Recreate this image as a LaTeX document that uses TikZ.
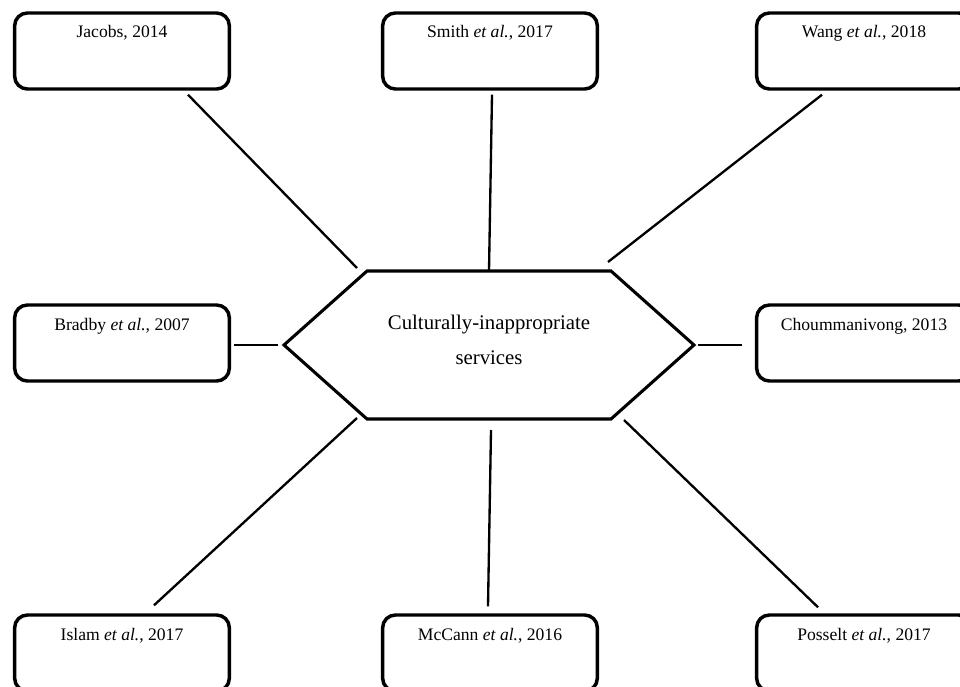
\documentclass[tikz,border=0pt]{standalone}
\usepackage{fontspec}
\setmainfont{Liberation Serif}
\usetikzlibrary{calc}
\begin{document}
\begin{tikzpicture}[x=0.75pt,y=-0.75pt,
  refbox/.style={draw, line width=2.6pt, rounded corners=9.5pt, minimum width=161pt, minimum height=57pt, inner sep=0pt},
  reftext/.style={font=\fontsize{13.2}{15}\selectfont, anchor=base, inner sep=0pt},
  link/.style={line width=1.75pt},
  hexline/.style={line width=2.3pt, line join=miter}]
\useasboundingbox (0,0) rectangle (960,686);
\clip (0,0) rectangle (960,686);

% boxes
\node[refbox] (jac) at (122,51) {};
\node[reftext] at ($(jac.north)+(0,26.5)$) {Jacobs, 2014};
\node[refbox] (smi) at (490,51) {};
\node[reftext] at ($(smi.north)+(0,26.5)$) {Smith \textit{et al.}, 2017};
\node[refbox] (wan) at (864,51) {};
\node[reftext] at ($(wan.north)+(0,26.5)$) {Wang \textit{et al.}, 2018};
\node[refbox] (bra) at (122,343) {};
\node[reftext] at ($(bra.north)+(0,27.5)$) {Bradby \textit{et al.}, 2007};
\node[refbox] (cho) at (864,343) {};
\node[reftext] at ($(cho.north)+(0,27.5)$) {Choummanivong, 2013};
\node[refbox] (isl) at (122,653) {};
\node[reftext] at ($(isl.north)+(0,27.5)$) {Islam \textit{et al.}, 2017};
\node[refbox] (mcc) at (490,653) {};
\node[reftext] at ($(mcc.north)+(0,27.5)$) {McCann \textit{et al.}, 2016};
\node[refbox] (pos) at (864,653) {};
\node[reftext] at ($(pos.north)+(0,27.5)$) {Posselt \textit{et al.}, 2017};

% central hexagon
\coordinate (h1) at (367,271);
\coordinate (h2) at (611,271);
\coordinate (h3) at (694,345);
\coordinate (h4) at (611,419);
\coordinate (h5) at (367,419);
\coordinate (h6) at (284,345);
\draw[hexline] (h1) -- (h2) -- (h3) -- (h4) -- (h5) -- (h6) -- cycle;
\node[align=center, inner sep=0pt, font=\fontsize{15.6}{26.25}\selectfont] (core) at (489,340) {Culturally-inappropriate\\services};

% connector ends at the hexagon
\coordinate (cJ) at (357,268);
\coordinate (cS) at (489,271);
\coordinate (cW) at (608,262);
\coordinate (cB) at (278,345);
\coordinate (cC) at (698,345);
\coordinate (cI) at (357,418);
\coordinate (cM) at (491,430);
\coordinate (cP) at (624,420);

\draw[link] (cJ) -- ([shift={(66,4)}]jac.south);
\draw[link] (cS) -- ([shift={(2,4)}]smi.south);
\draw[link] (cW) -- ([shift={(-42,4)}]wan.south);
\draw[link] (cB) -- ([shift={(3,2)}]bra.east);
\draw[link] (cC) -- ([shift={(-13,2)}]cho.west);
\draw[link] (cI) -- ([shift={(32,-8)}]isl.north);
\draw[link] (cM) -- ([shift={(-2,-7)}]mcc.north);
\draw[link] (cP) -- ([shift={(-46,-6)}]pos.north);
\end{tikzpicture}
\end{document}
